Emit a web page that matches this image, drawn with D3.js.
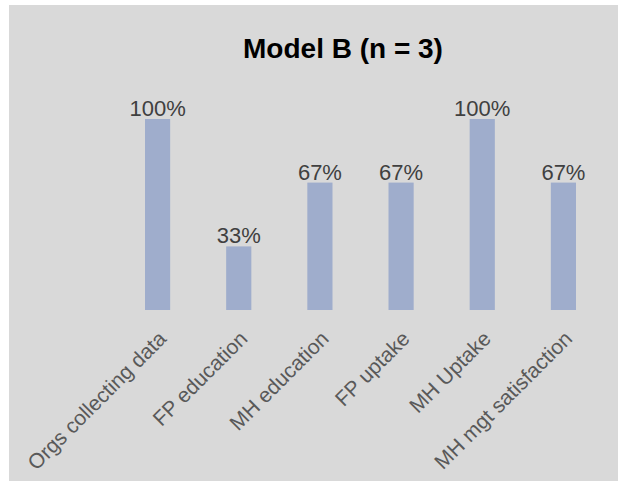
<!DOCTYPE html>
<html lang="en">
<head>
  <meta charset="UTF-8">
  <title>Model B</title>
  <script src="https://d3js.org/d3.v7.min.js"></script>
  <style>
    body { margin: 0; background: white; font-family: 'Liberation Sans', Arial, sans-serif; }
    svg { display: block; }
  </style>
</head>
<body>
  <div id="chart"></div>
  <script>
    const categories = ["Orgs collecting data", "FP education", "MH education", "FP uptake", "MH Uptake", "MH mgt satisfaction"];
    const values = [1, 0.333, 0.667, 0.667, 1, 0.667];
    const title = "Model B (n = 3)";

    const width = 618, height = 483;
    const svg = d3.select("#chart").append("svg").attr("width", width).attr("height", height);

    svg.append("rect").attr("x", 9).attr("y", 5).attr("width", width - 9).attr("height", 476).attr("fill", "#d9d9d9");

    svg.append("text")
      .attr("x", 343).attr("y", 58)
      .attr("text-anchor", "middle")
      .attr("font-size", 28).attr("font-weight", "bold")
      .attr("fill", "#000")
      .text(title);

    const x = d3.scaleBand().domain(categories).range([117, 604]).paddingInner(0.69).paddingOuter(0.345);
    const y = d3.scaleLinear().domain([0, 1]).range([310, 119]);

    const data = categories.map((c, i) => ({ c, v: values[i] }));

    svg.selectAll("rect.bar")
      .data(data)
      .enter().append("rect")
      .attr("class", "bar")
      .attr("x", d => x(d.c))
      .attr("y", d => y(d.v))
      .attr("width", x.bandwidth())
      .attr("height", d => y(0) - y(d.v))
      .attr("fill", "#9fadcc");

    svg.selectAll("text.val")
      .data(data)
      .enter().append("text")
      .attr("class", "val")
      .attr("x", d => x(d.c) + x.bandwidth() / 2)
      .attr("y", d => y(d.v) - 3)
      .attr("text-anchor", "middle")
      .attr("font-size", 22)
      .attr("fill", "#404040")
      .text(d => Math.round(d.v * 100) + "%");

    // category labels, rotated, ending just right of each bar
    const xAxis = svg.append("g")
      .attr("transform", `translate(0,${y(0)})`)
      .call(d3.axisBottom(x).tickSize(0).tickPadding(0));
    xAxis.select(".domain").remove();
    xAxis.selectAll("text")
      .attr("font-family", "'Liberation Sans', Arial, sans-serif")
      .attr("font-size", 21)
      .attr("fill", "#595959")
      .attr("text-anchor", "end")
      .attr("y", 0).attr("dy", 0)
      .attr("transform", "translate(10,30) rotate(-45)");
  </script>
</body>
</html>
